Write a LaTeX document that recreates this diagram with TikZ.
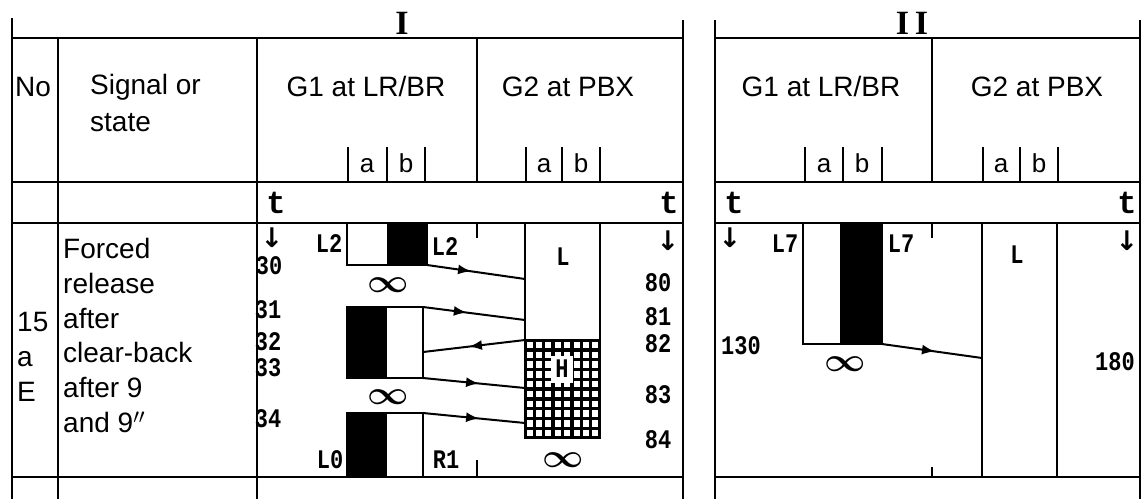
\documentclass[tikz,border=0pt]{standalone}
\usepackage{fontspec}
\usepackage{graphicx}
\setmainfont{Liberation Sans}
\newfontfamily\monof{Liberation Mono}
\newfontfamily\seriff{Liberation Serif}
\newfontfamily\dejavu{DejaVu Sans}
\usetikzlibrary{arrows.meta,decorations.markings}
\newcommand\tall[1]{\scalebox{1}[1.22]{#1}}
\newcommand\infsym{\scalebox{3.6}[3.3]{\boldmath$\infty$}}
\tikzset{
  frame/.style={line width=2.6pt},
  rule/.style={line width=2.2pt},
  hdr/.style={font=\fontsize{28}{37}\selectfont, inner sep=0pt},
  body/.style={font=\fontsize{28}{34.8}\selectfont, inner sep=0pt, align=left, anchor=north west},
  sublab/.style={font=\fontsize{26}{30}\selectfont, inner sep=0pt, anchor=base},
  tlab/.style={font=\monof\bfseries\fontsize{32}{32}\selectfont, inner sep=0pt, anchor=base},
  mlab/.style={font=\monof\bfseries\fontsize{22}{22}\selectfont, inner sep=0pt},
  titlelab/.style={font=\seriff\bfseries\fontsize{34}{34}\selectfont, inner sep=0pt},
  inf/.style={inner sep=0pt},
  darr/.style={font=\dejavu\bfseries\fontsize{27}{27}\selectfont, inner sep=0pt},
  sig/.style={line width=2pt, postaction={decorate},
    decoration={markings, mark=at position #1 with {\arrow{Latex[length=13pt,width=10pt]}}}},
  sig/.default=0.47,
}
\begin{document}
\begin{tikzpicture}[x=1pt,y=-1pt]
\useasboundingbox (0,0) rectangle (1148,499);
\fill[white] (0,0) rectangle (1148,499);

% ---------- titles ----------
\node[titlelab] (tI) at (402,23) {I};
\node[titlelab] (tII) at (912,23) {I\kern6pt I};

% ---------- frame panel I ----------
\draw[frame] (12,18) -- (12,499);
\draw[frame] (683,20) -- (683,499);
\draw[frame] (12,38) -- (683,38);
\draw[frame] (12,182) -- (683,182);
\draw[frame] (12,223) -- (683,223);
\draw[frame] (12,477) -- (683,477);
\draw[rule] (58,38) -- (58,499);
\draw[rule] (257,38) -- (257,499);
\draw[rule] (477,38) -- (477,182);
% ---------- frame panel II ----------
\draw[frame] (715,20) -- (715,499);
\draw[frame] (1140,20) -- (1140,499);
\draw[frame] (715,38) -- (1140,38);
\draw[frame] (715,182) -- (1140,182);
\draw[frame] (715,223) -- (1140,223);
\draw[frame] (715,477) -- (1140,477);
\draw[rule] (932,38) -- (932,182);

% ---------- header texts ----------
\node[hdr, anchor=base] (no) at (33,96) {No};
\node[hdr, anchor=north west, align=left] (sigstate) at (90,74) {Signal or\\state};
\node[hdr, anchor=base] (g1I) at (366,96) {G1 at LR/BR};
\node[hdr, anchor=base] (g2I) at (568,96) {G2 at PBX};
\node[hdr, anchor=base] (g1II) at (821,96) {G1 at LR/BR};
\node[hdr, anchor=base] (g2II) at (1037,96) {G2 at PBX};

% a|b ticks and labels
\foreach \x in {348,387,425,526,562,600,805,843,882,983,1020,1058}
  \draw[rule] (\x,147) -- (\x,182);
\node[sublab] (aI1) at (367,172) {a};
\node[sublab] (bI1) at (406,172) {b};
\node[sublab] (aI2) at (544,172) {a};
\node[sublab] (bI2) at (581,172) {b};
\node[sublab] (aII1) at (824,172) {a};
\node[sublab] (bII1) at (862,172) {b};
\node[sublab] (aII2) at (1001,172) {a};
\node[sublab] (bII2) at (1039,172) {b};

% t labels
\node[tlab] (t1) at (276,213) {t};
\node[tlab] (t2) at (669,213) {t};
\node[tlab] (t3) at (734,213) {t};
\node[tlab] (t4) at (1127,213) {t};

% ---------- left columns content ----------
\node[body] (num) at (17,312) {15\\a\\E};
\node[body] (sigtext) at (63,238) {Forced\\release\\after\\clear-back\\after 9\\and 9$''$};

% ---------- panel I diagram ----------
\node[darr] (dl1) at (272,238) {↓};
\node[darr] (dr1) at (668,241) {↓};

% box A
\fill (387,223) rectangle (427,265);
\draw[rule] (347,223) -- (347,265) -- (427,265) -- (427,223);
% box B
\fill (347,307) rectangle (387,378);
\draw[rule] (347,307) rectangle (423,378);
% box C
\fill (347,413) rectangle (387,477);
\draw[rule] (347,477) -- (347,413) -- (423,413) -- (423,477);

% boundary ticks
\draw[rule] (477,223) -- (477,238);
\draw[rule] (477,460) -- (477,477);

% L column and H block
\draw[rule] (525,223) -- (525,340);
\draw[rule] (600,223) -- (600,340);
\fill (525,340) rectangle (600,438);
\foreach \i in {0,...,7}
  \foreach \j in {0,...,9}
    \fill[white] ({525+\i*9.375+1.7},{340+\j*9.8+1.7}) rectangle ++(5.975,6.4);
\draw[rule] (525,340) rectangle (600,438);
\node[mlab, fill=white, minimum width=22pt, minimum height=27pt] (H) at (562,369) {\tall{H}};
\node[mlab] (L1) at (563,257) {\tall{L}};

% labels
\node[mlab] (L2a) at (329,244) {\tall{L2}};
\node[mlab] (L2b) at (445,247) {\tall{L2}};
\node[mlab] (L0) at (330,460) {\tall{L0}};
\node[mlab] (R1) at (446,460) {\tall{R1}};
\node[mlab] (n30) at (269,266) {\tall{30}};
\node[mlab] (n31) at (268,310) {\tall{31}};
\node[mlab] (n32) at (268,342) {\tall{32}};
\node[mlab] (n33) at (268,368) {\tall{33}};
\node[mlab] (n34) at (268,419) {\tall{34}};
\node[mlab] (n80) at (658,283) {\tall{80}};
\node[mlab] (n81) at (658,317) {\tall{81}};
\node[mlab] (n82) at (658,344) {\tall{82}};
\node[mlab] (n83) at (658,395) {\tall{83}};
\node[mlab] (n84) at (658,440) {\tall{84}};
\node[inf] (inf1) at (388,285) {\infsym};
\node[inf] (inf2) at (388,397) {\infsym};
\node[inf] (inf3) at (563,460) {\infsym};

% connectors
\coordinate (a1s) at (427,265); \coordinate (a1e) at (525,279);
\coordinate (a2s) at (423,307); \coordinate (a2e) at (525,320);
\coordinate (a3s) at (525,340); \coordinate (a3e) at (423,352);
\coordinate (a4s) at (423,378); \coordinate (a4e) at (525,388);
\coordinate (a5s) at (423,413); \coordinate (a5e) at (525,423);
\draw[sig=0.45] (a1s) -- (a1e);
\draw[sig=0.43] (a2s) -- (a2e);
\draw[sig=0.55] (a3s) -- (a3e);
\draw[sig=0.55] (a4s) -- (a4e);
\draw[sig=0.55] (a5s) -- (a5e);

% ---------- panel II diagram ----------
\node[darr] (dl2) at (730,238) {↓};
\node[darr] (dr2) at (1127,241) {↓};
\fill (840,223) rectangle (882,344);
\draw[rule] (803,223) -- (803,344) -- (882,344) -- (882,223);
\draw[rule] (982,223) -- (982,477);
\draw[rule] (1057,223) -- (1057,477);
\draw[rule] (932,223) -- (932,238);
\draw[rule] (932,467) -- (932,477);
\node[mlab] (L7a) at (785,244) {\tall{L7}};
\node[mlab] (L7b) at (901,244) {\tall{L7}};
\node[mlab] (L2c) at (1017,255) {\tall{L}};
\node[mlab] (n130) at (741,346) {\tall{130}};
\node[mlab] (n180) at (1115,362) {\tall{180}};
\node[inf] (inf4) at (845,364) {\infsym};
\coordinate (b1s) at (882,344); \coordinate (b1e) at (982,358);
\draw[sig=0.53] (b1s) -- (b1e);
\end{tikzpicture}
\end{document}
